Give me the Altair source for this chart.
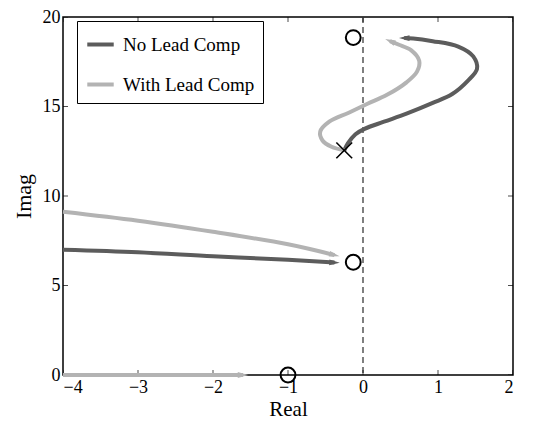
import altair as alt
import pandas as pd

# ---- data ----
series_names = ["No Lead Comp", "With Lead Comp"]

dark_upper_re = [-0.25, -0.2, -0.1, 0.02, 0.28, 0.58, 0.93, 1.19, 1.40, 1.52, 1.47, 1.27, 0.93, 0.67, 0.55]
dark_upper_im = [12.55, 12.95, 13.45, 13.75, 14.15, 14.6, 15.2, 15.7, 16.45, 17.1, 17.8, 18.35, 18.65, 18.8, 18.82]

light_upper_re = [-0.25, -0.42, -0.54, -0.57, -0.45, -0.19, 0.06, 0.32, 0.58, 0.72, 0.75, 0.64, 0.48, 0.36]
light_upper_im = [12.55, 12.75, 13.1, 13.6, 14.15, 14.65, 15.15, 15.65, 16.35, 16.95, 17.55, 18.15, 18.45, 18.65]

dark_lower_re = [-4.0, -3.0, -2.0, -1.0, -0.38]
dark_lower_im = [7.0, 6.86, 6.63, 6.44, 6.28]

light_lower_re = [-4.0, -3.0, -2.0, -1.0, -0.38]
light_lower_im = [9.12, 8.62, 8.0, 7.3, 6.7]

light_real_re = [-4.0, -1.6]
light_real_im = [0.0, 0.0]

zeros_re = [-0.13, -0.13, -1.0]
zeros_im = [18.85, 6.3, 0.0]

poles_re = [-0.25]
poles_im = [12.55]

arrow_angle = [180, 203, 3, 14, 0]

x_ticks = [-4, -3, -2, -1, 0, 1, 2]
y_ticks = [0, 5, 10, 15, 20]

# ---- tables ----
branches = [
    ("No Lead Comp", "d_up", dark_upper_re, dark_upper_im),
    ("With Lead Comp", "l_up", light_upper_re, light_upper_im),
    ("No Lead Comp", "d_lo", dark_lower_re, dark_lower_im),
    ("With Lead Comp", "l_lo", light_lower_re, light_lower_im),
    ("With Lead Comp", "l_re", light_real_re, light_real_im),
]
rows = []
arrows = []
for (s, b, xs, ys), ang in zip(branches, arrow_angle):
    for i, (x, y) in enumerate(zip(xs, ys)):
        rows.append({"series": s, "branch": b, "order": i, "re": x, "im": y})
    arrows.append({"series": s, "re": xs[-1], "im": ys[-1], "angle": ang})
lines_df = pd.DataFrame(rows)
arrows_df = pd.DataFrame(arrows)
zeros_df = pd.DataFrame({"re": zeros_re, "im": zeros_im})
poles_df = pd.DataFrame({"re": poles_re, "im": poles_im})
xt_df = pd.DataFrame({"v": x_ticks})
yt_df = pd.DataFrame({"v": y_ticks})

FONT = "Liberation Serif"
DARK = "#5c5c5c"
LIGHT = "#b3b3b3"
H = 358

xscale = alt.Scale(domain=[-4, 2], nice=False, zero=False)
yscale = alt.Scale(domain=[0, 20], nice=False, zero=False)
color = alt.Color(
    "series:N",
    scale=alt.Scale(domain=series_names, range=[DARK, LIGHT]),
    legend=alt.Legend(
        title=None,
        orient="none",
        legendX=14,
        legendY=4,
        symbolType="stroke",
        symbolStrokeWidth=4,
        symbolSize=700,
        labelFont=FONT,
        labelFontSize=19,
        labelColor="black",
        strokeColor="black",
        fillColor="white",
        padding=8,
        rowPadding=14,
        labelOffset=7,
    ),
)

X = alt.X(
    "re:Q",
    scale=xscale,
    axis=alt.Axis(
        title="Real",
        values=x_ticks,
        format="d",
        ticks=False,
        domain=False,
        grid=False,
        labelFont=FONT,
        labelFontSize=18,
        labelColor="black",
        labelPadding=3,
        titleFont=FONT,
        titleFontSize=21,
        titleFontWeight="normal",
        titleColor="black",
        titlePadding=2,
    ),
)
Y = alt.Y(
    "im:Q",
    scale=yscale,
    axis=alt.Axis(
        title="Imag",
        values=y_ticks,
        format="d",
        ticks=False,
        domain=False,
        grid=False,
        labelFont=FONT,
        labelFontSize=18,
        labelColor="black",
        labelPadding=3,
        titleFont=FONT,
        titleFontSize=22,
        titleFontWeight="normal",
        titleColor="black",
        titlePadding=7,
    ),
)

dashed = alt.Chart(pd.DataFrame({"re": [0]})).mark_rule(
    color="#555555", strokeDash=[6, 4], strokeWidth=1.5
).encode(x=alt.X("re:Q", scale=xscale))

lines = alt.Chart(lines_df).mark_line(
    strokeWidth=4, strokeCap="butt", interpolate="catmull-rom"
).encode(x=X, y=Y, color=color, detail="branch:N", order="order:Q")

heads = alt.Chart(arrows_df).mark_point(
    shape="M1,0L-1,-0.55L-1,0.55Z", filled=True, size=110, opacity=1
).encode(
    x=alt.X("re:Q", scale=xscale),
    y=alt.Y("im:Q", scale=yscale),
    color=alt.Color("series:N", scale=alt.Scale(domain=series_names, range=[DARK, LIGHT]), legend=None),
    angle=alt.Angle("angle:Q", scale=None),
)

zeros = alt.Chart(zeros_df).mark_point(
    shape="circle", filled=False, size=220, color="black", strokeWidth=2, opacity=1
).encode(x=alt.X("re:Q", scale=xscale), y=alt.Y("im:Q", scale=yscale))

poles = alt.Chart(poles_df).mark_point(
    shape="M-1,-1L1,1M-1,1L1,-1", filled=False, size=250, color="black", strokeWidth=1.6, opacity=1
).encode(x=alt.X("re:Q", scale=xscale), y=alt.Y("im:Q", scale=yscale))

tick_kw = dict(size=10, thickness=1, color="black", clip=True)
xt_bottom = alt.Chart(xt_df).mark_tick(orient="vertical", **tick_kw).encode(
    x=alt.X("v:Q", scale=xscale), y=alt.value(H)
)
xt_top = alt.Chart(xt_df).mark_tick(orient="vertical", **tick_kw).encode(
    x=alt.X("v:Q", scale=xscale), y=alt.value(0)
)
yt_left = alt.Chart(yt_df).mark_tick(orient="horizontal", **tick_kw).encode(
    y=alt.Y("v:Q", scale=yscale), x=alt.value(0)
)
yt_right = alt.Chart(yt_df).mark_tick(orient="horizontal", **tick_kw).encode(
    y=alt.Y("v:Q", scale=yscale), x=alt.value(450)
)

chart = alt.layer(
    dashed, xt_bottom, xt_top, yt_left, yt_right, lines, heads, zeros, poles
).properties(
    width=450,
    height=H,
    autosize=alt.AutoSizeParams(type="none"),
    padding={"left": 55, "top": 9, "right": 18, "bottom": 45},
    background="white",
).configure(font=FONT).configure_view(stroke="black", strokeWidth=1.5)

chart.save("out.html", embed_options={"renderer": "svg", "actions": False})
